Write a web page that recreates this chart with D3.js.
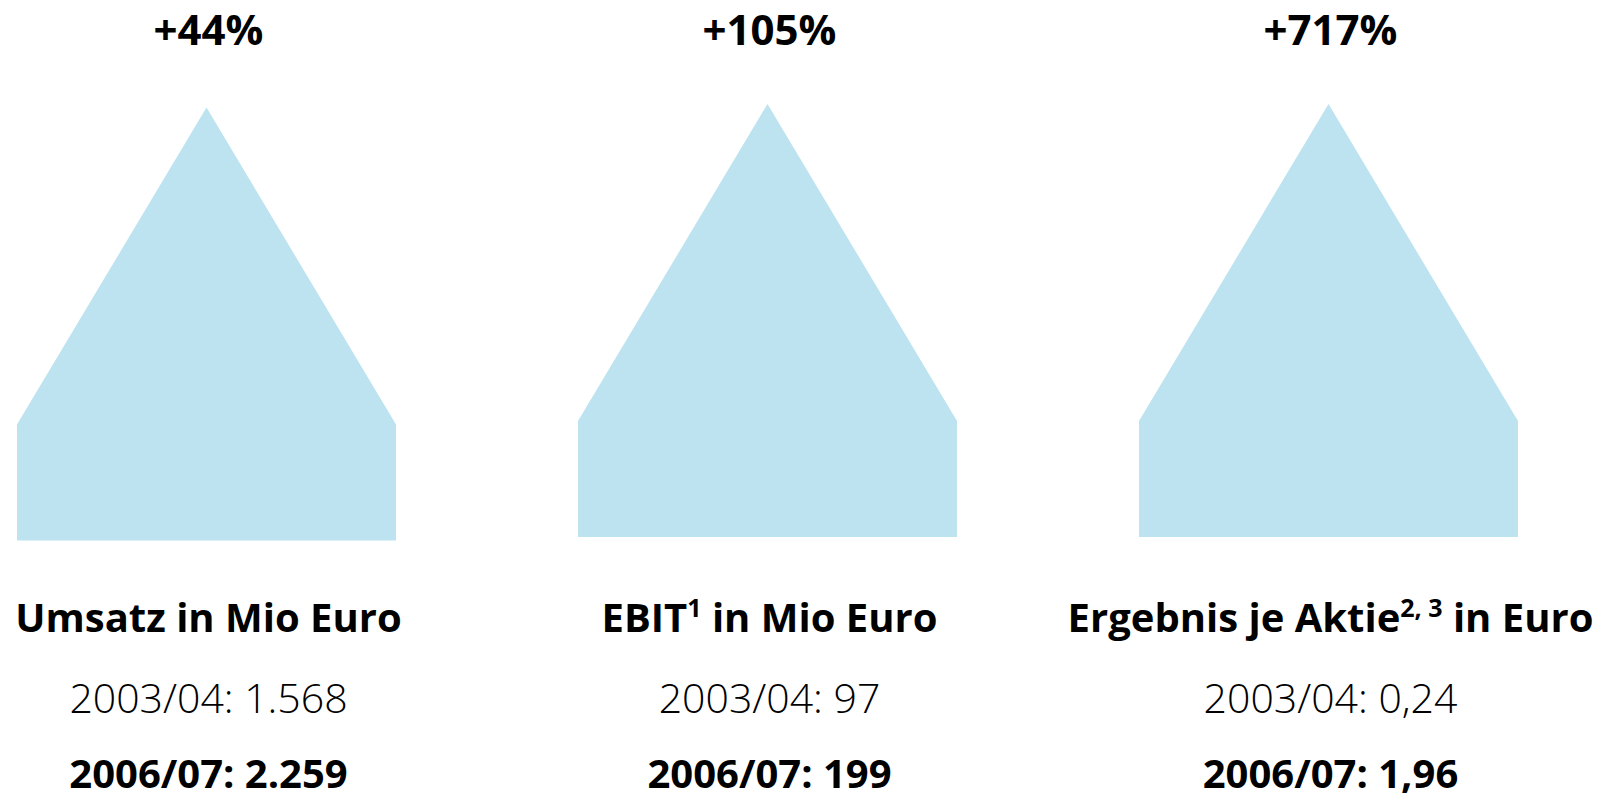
<!DOCTYPE html>
<html>
<head>
<meta charset="utf-8">
<script src="https://cdn.jsdelivr.net/npm/d3@7"></script>
<style>
  body { margin: 0; background: #fff; }
  text { font-family: "Open Sans", "Noto Sans", sans-serif; fill: #000; }
</style>
</head>
<body>
<div id="chart"></div>
<script>
// values
var categories = ["Umsatz", "EBIT", "Ergebnis"];
var growthLabels = ["+44%", "+105%", "+717%"];
var titleMain = ["Umsatz in Mio Euro", "EBIT", "Ergebnis je Aktie"];
var titleSup = ["", "1", "2, 3"];
var titleTail = ["", " in Mio Euro", " in Euro"];
var oldValues = ["2003/04: 1.568", "2003/04: 97", "2003/04: 0,24"];
var newValues = ["2006/07: 2.259", "2006/07: 199", "2006/07: 1,96"];

var w = 1617, h = 801;
var svg = d3.select("#chart").append("svg")
    .attr("width", w)
    .attr("height", h);

var x = d3.scaleBand()
    .domain(categories)
    .range([17, 1518])
    .paddingInner(0.3244)
    .paddingOuter(0);

// the first arrow sits a few pixels lower in the original
var drop = function(i) { return i === 0 ? 3.5 : 0; };

var arrowW = x.bandwidth();
var cx = arrowW / 2 + 2;
var cols = svg.selectAll(".col")
    .data(categories)
    .enter().append("g")
    .attr("class", "col")
    .attr("transform", function(d) { return "translate(" + x(d) + ",0)"; });

cols.append("path")
    .attr("d", function(d, i) {
        var o = drop(i);
        return "M0," + (421 + o) +
            "L" + (arrowW / 2) + "," + (104 + o) +
            "L" + arrowW + "," + (421 + o) +
            "L" + arrowW + "," + (537 + o) +
            "L0," + (537 + o) + "Z";
    })
    .style("fill", "#bce3ef");

cols.append("text")
    .attr("x", cx)
    .attr("y", 45)
    .attr("text-anchor", "middle")
    .style("font-weight", 700)
    .style("font-size", "42px")
    .text(function(d, i) { return growthLabels[i]; });

var title = cols.append("text")
    .attr("x", cx)
    .attr("y", 632)
    .attr("text-anchor", "middle")
    .style("font-weight", 700)
    .style("font-size", "40px");
title.append("tspan").text(function(d, i) { return titleMain[i]; });
title.append("tspan")
    .attr("dy", -15)
    .style("font-size", "25px")
    .text(function(d, i) { return titleSup[i]; });
title.append("tspan")
    .attr("dy", function(d, i) { return titleSup[i] ? 15 : 0; })
    .text(function(d, i) { return titleTail[i]; });

cols.append("text")
    .attr("x", cx)
    .attr("y", 713)
    .attr("text-anchor", "middle")
    .style("font-weight", 300)
    .style("font-size", "41px")
    .text(function(d, i) { return oldValues[i]; });

cols.append("text")
    .attr("x", cx)
    .attr("y", 788)
    .attr("text-anchor", "middle")
    .style("font-weight", 700)
    .style("font-size", "40px")
    .text(function(d, i) { return newValues[i]; });
</script>
</body>
</html>
